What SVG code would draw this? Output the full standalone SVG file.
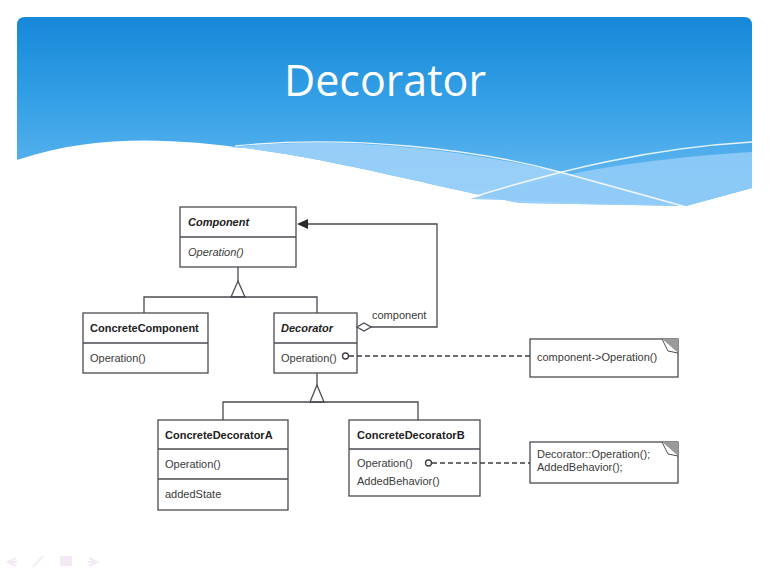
<svg xmlns="http://www.w3.org/2000/svg" width="770" height="577" viewBox="0 0 770 577">
<defs>
<linearGradient id="hdr" x1="0" y1="0" x2="0" y2="1">
<stop offset="0" stop-color="#1688d8"/>
<stop offset="0.45" stop-color="#35a0e6"/>
<stop offset="1" stop-color="#6cbcf2"/>
</linearGradient>
<style>
.box{fill:#ffffff;stroke:#4d4a52;stroke-width:1.3}
.ln{fill:none;stroke:#4d4a52;stroke-width:1.3}
.dash{fill:none;stroke:#3f3c44;stroke-width:1.3;stroke-dasharray:5,3}
.dot{fill:#ffffff;stroke:#3f3c44;stroke-width:1.3}
.t{font-family:"Liberation Sans",Arial,sans-serif;font-size:11px;fill:#3a3a3a}
.b{font-weight:bold;fill:#222}
.i{font-style:italic}
.nav{fill:none;stroke:#f4eaf5;stroke-width:2}
</style>
</defs>
<rect width="770" height="577" fill="#ffffff"/>
<g id="header">
<path d="M17,160 L17,25 Q17,17 25,17 L744,17 Q752,17 752,25 L752,188 L686,206 L520,203 C440,188 340,160 245,148 C180,140 100,132 17,160 Z" fill="url(#hdr)"/>
<path d="M230,148 C300,138 420,140 560,172 C620,186 660,198 686,206 L520,203 C440,188 340,160 245,148 Z" fill="#a2d4fa" opacity="0.85"/>
<path d="M470,199 C560,172 650,158 752,152 L752,188 L686,206 Z" fill="#90cbf7" opacity="0.9"/>
<path d="M235,146 C350,134 480,150 560,172 C620,189 660,200 690,208" fill="none" stroke="#ffffff" stroke-width="1.4" opacity="0.85"/>
<path d="M470,198 C560,170 650,148 752,142" fill="none" stroke="#ffffff" stroke-width="1.4" opacity="0.85"/>
<text x="385" y="96" text-anchor="middle" font-family="'Open Sans','Noto Sans',sans-serif" font-size="43" fill="#ffffff">Decorator</text>
</g>
<g id="Component">
<rect class="box" x="180" y="207" width="116" height="60"/>
<path class="ln" d="M180,237 H296"/>
<text class="t b i" x="188" y="226">Component</text>
<text class="t i" x="188" y="256">Operation()</text>
</g>
<g id="ConcreteComponent">
<rect class="box" x="83" y="313" width="125" height="60"/>
<path class="ln" d="M83,343 H208"/>
<text class="t b" x="90" y="332">ConcreteComponent</text>
<text class="t" x="90" y="362">Operation()</text>
</g>
<g id="Decorator">
<rect class="box" x="274" y="313" width="83" height="60"/>
<path class="ln" d="M274,343 H357"/>
<text class="t b i" x="281" y="332">Decorator</text>
<text class="t" x="281" y="362">Operation()</text>
</g>
<g id="ConcreteDecoratorA">
<rect class="box" x="158" y="420" width="130" height="90"/>
<path class="ln" d="M158,449 H288 M158,479 H288"/>
<text class="t b" x="165" y="439">ConcreteDecoratorA</text>
<text class="t" x="165" y="468">Operation()</text>
<text class="t" x="165" y="498">addedState</text>
</g>
<g id="ConcreteDecoratorB">
<rect class="box" x="349" y="420" width="131" height="76"/>
<path class="ln" d="M349,449 H480"/>
<text class="t b" x="357" y="439">ConcreteDecoratorB</text>
<text class="t" x="357" y="467">Operation()</text>
<text class="t" x="357" y="485">AddedBehavior()</text>
</g>
<g id="note1">
<rect class="box" x="530" y="339" width="148" height="38"/>
<path d="M662,339 L678,339 L678,353 Z" fill="#9a9a9a"/>
<path d="M662,339 L668,351 L678,353" fill="#ffffff" stroke="#4d4a52" stroke-width="1"/>
<text class="t" x="537" y="361">component-&gt;Operation()</text>
</g>
<g id="note2">
<rect class="box" x="530" y="442" width="148" height="41"/>
<path d="M662,442 L678,442 L678,456 Z" fill="#9a9a9a"/>
<path d="M662,442 L668,454 L678,456" fill="#ffffff" stroke="#4d4a52" stroke-width="1"/>
<text class="t" x="537" y="458">Decorator::Operation();</text>
<text class="t" x="537" y="471">AddedBehavior();</text>
</g>
<g id="connectors">
<path class="ln" d="M238,267 V281"/>
<path class="box" d="M238,281 L245,297 L231,297 Z"/>
<path class="ln" d="M144,313 V297 H317 V313"/>
<path class="ln" d="M317,373 V385"/>
<path class="box" d="M317,385 L324,402 L310,402 Z"/>
<path class="ln" d="M223,420 V402 H418 V420"/>
<path class="ln" d="M371,327 H437 V224 H307"/>
<path d="M297,224 L308,219 L308,229 Z" fill="#2a2a2a"/>
<path class="box" d="M357,327 L364,323 L371,327 L364,331 Z"/>
<text class="t" x="372" y="319">component</text>
<path class="dash" d="M349,356 H530"/>
<circle class="dot" cx="345.5" cy="356" r="3"/>
<path class="dash" d="M432,463 H530"/>
<circle class="dot" cx="428.5" cy="463" r="3"/>
</g>
<g id="nav">
<path class="nav" d="M16,558 L8,562 L16,566 M8,562 H17"/>
<path class="nav" d="M33,567 L43,556"/>
<rect x="60" y="556" width="12" height="10" fill="#f4eaf5"/>
<path class="nav" d="M89,558 L97,562 L89,566 M88,562 H97"/>
</g>
</svg>
